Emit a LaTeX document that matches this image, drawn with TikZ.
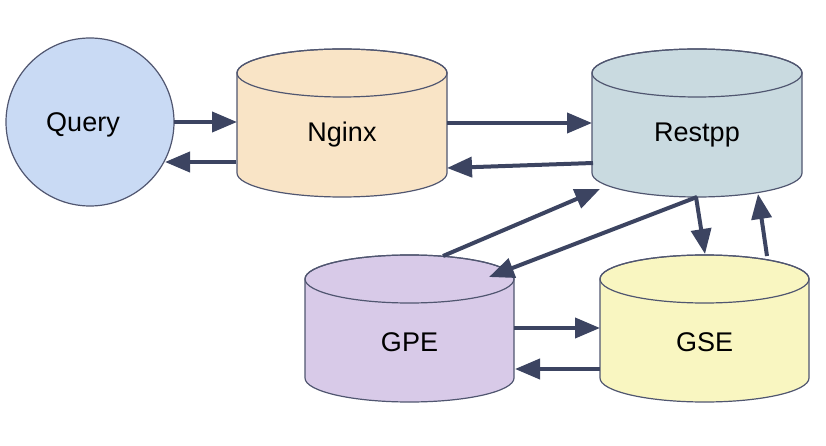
\documentclass[tikz,border=0pt]{standalone}
\usepackage{fontspec}
\setmainfont{Liberation Sans}
\usetikzlibrary{arrows.meta}
\definecolor{qfill}{RGB}{201,218,244}
\definecolor{nfill}{RGB}{249,228,198}
\definecolor{rfill}{RGB}{201,218,224}
\definecolor{pfill}{RGB}{216,202,232}
\definecolor{sfill}{RGB}{249,246,193}
\definecolor{edge}{RGB}{80,86,112}
\definecolor{arr}{RGB}{60,68,97}
\tikzset{
  conn/.style={draw=arr, line width=4pt, -{Triangle[length=25pt,width=20pt]}},
  lbl/.style={font=\fontsize{27}{30}\selectfont, inner sep=0pt},
}
% #1 fill, #2 left x, #3 right x, #4 top ellipse y, #5 bottom ellipse y
\newcommand{\cylbody}[5]{%
  \pgfmathsetmacro{\rxx}{(#3-#2)/2}%
  \pgfmathsetmacro{\cxx}{(#3+#2)/2}%
  \filldraw[fill=#1, draw=edge, line width=1.2pt]
    (#2,-#4) -- (#2,-#5) arc[start angle=180, end angle=360, x radius=\rxx, y radius=24]
    -- (#3,-#4) arc[start angle=0, end angle=180, x radius=\rxx, y radius=24] -- cycle;
  \draw[draw=edge, line width=1.2pt] (\cxx,-#4) ellipse[x radius=\rxx, y radius=24];
}
\begin{document}
\begin{tikzpicture}[x=1pt,y=1pt]
\useasboundingbox (0,0) rectangle (826,-446);
% shapes
\filldraw[fill=qfill, draw=edge, line width=1.2pt] (90,-122) circle[radius=84];
\node[lbl] (q) at (83,-125) {Query};
\cylbody{nfill}{237}{447}{73}{173}
\node[lbl] (ngx) at (342,-135) {Nginx};
\cylbody{rfill}{592}{802}{73}{173}
\node[lbl] (rst) at (697,-135) {Restpp};
\cylbody{pfill}{305}{514}{279}{378}
\node[lbl] (gpe) at (409.5,-342) {GPE};
\cylbody{sfill}{600}{809}{279}{378}
\node[lbl] (gse) at (704.5,-342) {GSE};
% connector end points
\coordinate (qn1) at (174,-122);   \coordinate (qn2) at (237,-122);
\coordinate (nq1) at (236,-162);   \coordinate (nq2) at (165,-162);
\coordinate (nr1) at (447,-123);   \coordinate (nr2) at (592,-123);
\coordinate (rn1) at (593,-163);   \coordinate (rn2) at (447,-168);
\coordinate (pr1) at (443,-256);   \coordinate (pr2) at (600,-189);
\coordinate (rp1) at (697,-197);   \coordinate (rp2) at (489,-277);
\coordinate (rs1) at (696,-197);   \coordinate (rs2) at (705,-254);
\coordinate (sr1) at (767,-256);   \coordinate (sr2) at (758,-194);
\coordinate (ps1) at (514,-328);   \coordinate (ps2) at (600,-328);
\coordinate (sp1) at (600,-369);   \coordinate (sp2) at (515,-369);
% connectors
\draw[conn] (qn1) -- (qn2);
\draw[conn] (nq1) -- (nq2);
\draw[conn] (nr1) -- (nr2);
\draw[conn] (rn1) -- (rn2);
\draw[conn] (pr1) -- (pr2);
\draw[conn] (rp1) -- (rp2);
\draw[conn] (rs1) -- (rs2);
\draw[conn] (sr1) -- (sr2);
\draw[conn] (ps1) -- (ps2);
\draw[conn] (sp1) -- (sp2);
\end{tikzpicture}
\end{document}
